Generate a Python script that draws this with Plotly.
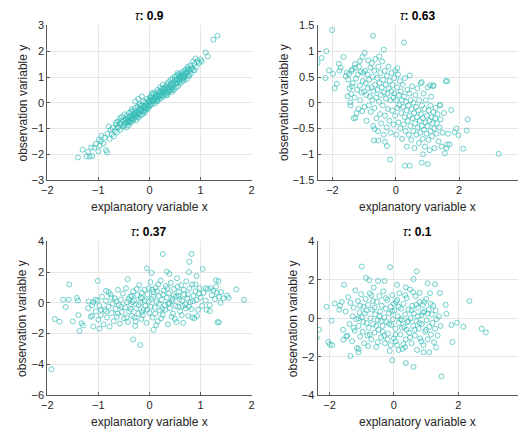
import plotly.graph_objects as go

# ---------------- data ----------------
titles = ["0.9", "0.63", "0.37", "0.1"]

p1 = [(-1.40,-2.12),(-1.31,-1.82),(-1.23,-2.08),(-1.17,-2.09),(-1.12,-2.07),(-1.14,-1.74),(-1.08,-1.74),(-1.20,-1.90),
      (-0.99,-1.43),(-0.94,-1.28),(-0.90,-1.58),(-0.85,-1.84),(-0.83,-1.92),(-1.00,-1.88),(-0.97,-1.66),(-0.95,-1.50),
      (-1.05,-1.60),(-0.88,-1.35),(-0.82,-1.20),(-0.80,-0.92),(-0.78,-1.40),(-0.76,-1.05),(-0.74,-1.22),(-0.72,-0.98),
      (-0.70,-1.30),(-0.68,-1.10),(-0.66,-0.78),
      (-0.65,-0.85),(-0.64,-1.15),(-0.62,-0.72),(-0.60,-0.95),(-0.58,-0.60),(-0.57,-1.05),(-0.55,-0.80),(-0.54,-0.55),
      (-0.52,-0.92),(-0.50,-0.70),(-0.49,-0.45),(-0.48,-0.85),(-0.46,-0.62),(-0.45,-0.95),(-0.44,-0.50),(-0.43,-0.75),
      (-0.42,-0.58),(-0.41,-0.88),(-0.40,-0.40),(-0.39,-0.66),(-0.38,-0.55),(-0.37,-0.78),(-0.36,-0.35),(-0.35,-0.60),
      (-0.34,-0.48),(-0.33,-0.70),(-0.32,-0.30),(-0.31,-0.55),(-0.30,-0.62),(-0.29,-0.42),(-0.28,-0.20),(-0.27,-0.50),
      (-0.26,-0.68),(-0.25,-0.35),(-0.24,-0.45),(-0.23,-0.15),(-0.22,-0.58),(-0.21,-0.28),(-0.20,-0.40),(-0.19,-0.05),
      (-0.18,-0.50),(-0.17,-0.22),(-0.16,-0.32),(-0.15,-0.10),(-0.14,-0.45),(-0.13,-0.18),(-0.12,0.05),(-0.11,-0.30),
      (-0.10,-0.12),(-0.09,-0.38),(-0.08,0.02),(-0.07,-0.20),(-0.06,-0.05),(-0.05,0.15),(-0.04,-0.25),(-0.03,-0.08),
      (-0.02,0.08),(-0.01,-0.15),(0.00,0.00),(0.01,0.22),(0.02,-0.10),(0.03,0.10),(0.04,0.30),(0.05,-0.05),(0.06,0.15),
      (0.07,0.05),(0.08,0.35),(0.09,0.12),(0.10,-0.02),(0.11,0.25),(0.12,0.40),(0.13,0.18),(0.14,0.08),(0.15,0.30),
      (0.16,0.50),(0.17,0.22),(0.18,0.12),(0.19,0.40),(0.20,0.28),(0.21,0.60),(0.22,0.35),(0.23,0.18),(0.24,0.48),
      (0.25,0.30),(0.26,0.70),(0.27,0.42),(0.28,0.25),(0.29,0.55),(0.30,0.38),(0.31,0.62),(0.32,0.45),(0.33,0.30),
      (0.34,0.72),(0.35,0.52),(0.36,0.40),(0.37,0.80),(0.38,0.60),(0.39,0.45),(0.40,0.68),(0.41,0.88),(0.42,0.55),
      (0.43,0.75),(0.44,0.42),(0.45,0.95),(0.46,0.62),(0.47,0.80),(0.48,0.50),(0.49,1.00),(0.50,0.72),(0.51,0.88),
      (0.52,0.60),(0.53,1.05),(0.54,0.78),(0.55,0.92),(0.56,0.65),(0.57,1.10),(0.58,0.85),(0.59,1.00),(0.60,0.75),
      (0.61,1.15),(0.62,0.90),(0.63,1.05),(0.64,0.82),(0.65,1.20),(0.66,0.95),(0.67,1.10),(0.68,0.88),(0.69,1.25),
      (0.70,1.02),(0.72,1.30),(0.73,0.92),(0.74,1.15),(0.75,1.40),(0.76,1.05),(0.78,1.25),(0.80,1.45),(0.81,1.12),
      (0.83,1.35),(0.85,1.60),(0.86,1.28),(0.88,1.50),(0.90,1.72),(0.92,1.40),(0.94,1.62),(0.97,1.55),(1.00,1.68),
      (1.02,1.60),(1.10,1.95),(1.14,1.80),(1.25,2.45),(1.33,2.60),
      (-0.55,-0.70),(-0.50,-0.90),(-0.45,-0.65),(-0.40,-0.75),(-0.35,-0.50),(-0.30,-0.45),(-0.25,-0.55),(-0.20,-0.25),
      (-0.15,-0.30),(-0.10,-0.20),(-0.05,-0.10),(0.00,0.10),(0.05,0.05),(0.10,0.20),(0.15,0.15),(0.20,0.45),(0.25,0.40),
      (0.30,0.52),(0.35,0.60),(0.40,0.50),(0.45,0.70),(0.50,0.90),(0.55,0.80),(0.60,0.95),(0.65,1.00),(0.70,1.15),
      (-0.33,-0.62),(-0.28,-0.38),(-0.18,-0.12),(-0.08,-0.28),(0.02,0.18),(0.12,0.28),(0.22,0.25),(0.32,0.35),
      (0.42,0.65),(0.52,0.75),(0.62,1.05),(0.72,1.20),(-0.38,-0.72),(-0.42,-0.68),(-0.47,-0.78),(-0.58,-0.82),
      (-0.62,-0.95),(0.58,1.02),(0.68,0.98),(0.78,1.05),(0.82,1.30),(0.88,1.25),(0.45,0.50),(0.35,0.30),(0.15,0.05),
      (-0.02,-0.20),(-0.12,-0.35),(-0.22,-0.45),(0.05,0.38),(0.25,0.55),(-0.35,-0.25),(0.55,1.15),(0.76,1.32),
      (-0.22,0.15),(-0.15,0.25),(-0.28,0.05)]

p2 = [(-2.47,0.77),(-2.34,0.87),(-2.19,1.00),(-2.22,0.48),(-2.01,1.41),(-2.11,0.63),(-1.98,0.56),(-1.93,0.28),
      (-1.86,0.37),(-1.80,0.76),(-1.74,0.68),(-1.78,0.62),(-1.65,0.89),(-1.47,0.56),(-1.44,0.01),(-1.41,0.17),
      (-1.39,0.32),(-1.37,0.65),(-1.29,0.75),(-1.27,-0.29),(-1.13,0.81),(-1.05,0.89),(-0.98,0.97),(-0.72,1.30),
      (-0.67,-0.51),(-0.69,-0.73),(-0.55,-0.73),(-0.52,0.90),(-0.38,1.03),(-0.34,-0.76),(-0.28,-0.84),(-0.18,-1.10),
      (0.26,1.17),(0.29,-1.22),(0.44,-1.22),(0.82,-1.16),(1.01,-1.19),(0.86,-1.00),(1.55,-0.98),(1.62,-0.81),
      (1.70,-0.81),(1.62,0.42),(1.75,-0.14),(2.27,-0.32),(2.24,-0.54),(2.13,-0.89),(1.98,-0.63),(1.91,-0.50),
      (1.86,-0.57),(3.25,-0.99),(1.39,-0.04),(1.19,0.34),(1.08,0.34),(0.82,0.40),(0.44,0.53),(0.05,0.67),
      (-1.58,0.52),(-1.55,0.58),(-1.52,0.13),(-1.50,0.45),(-1.46,0.28),(-1.43,-0.05),(-1.40,0.62),(-1.36,0.38),
      (-1.33,-0.30),(-1.30,0.10),(-1.28,0.68),(-1.26,0.47),(-1.24,-0.20),(-1.22,0.25),(-1.20,0.55),(-1.18,-0.12),
      (-1.16,0.70),(-1.14,0.33),(-1.12,0.05),(-1.10,0.60),(-1.08,0.20),(-1.06,-0.16),(-1.04,0.42),(-1.02,0.58),
      (-1.00,0.22),(-0.99,-0.08),(-0.97,0.62),(-0.95,0.38),(-0.93,0.15),(-0.92,-0.35),(-0.90,0.55),(-0.88,0.28),
      (-0.87,0.82),(-0.85,-0.05),(-0.84,0.45),(-0.82,0.12),(-0.80,0.68),(-0.79,-0.18),(-0.77,0.30),(-0.76,0.77),
      (-0.74,0.05),(-0.73,0.50),(-0.71,-0.45),(-0.70,0.22),(-0.68,0.62),(-0.67,-0.10),(-0.65,0.35),(-0.64,0.85),
      (-0.62,0.10),(-0.61,-0.30),(-0.59,0.48),(-0.58,0.25),(-0.56,-0.55),(-0.55,0.70),(-0.53,0.02),(-0.52,0.38),
      (-0.50,-0.22),(-0.49,0.58),(-0.47,0.15),(-0.46,-0.40),(-0.44,0.30),(-0.43,0.80),(-0.41,-0.05),(-0.40,0.45),
      (-0.38,-0.62),(-0.37,0.20),(-0.35,0.62),(-0.34,-0.25),(-0.32,0.35),(-0.31,0.08),(-0.29,-0.48),(-0.28,0.52),
      (-0.26,0.18),(-0.25,-0.12),(-0.23,0.70),(-0.22,0.28),(-0.20,-0.35),(-0.19,0.42),(-0.17,0.05),(-0.16,-0.58),
      (-0.14,0.22),(-0.13,0.58),(-0.11,-0.15),(-0.10,0.35),(-0.08,0.10),(-0.07,-0.42),(-0.05,0.48),(-0.04,0.18),
      (-0.02,-0.25),(-0.01,0.62),(0.01,0.05),(0.02,-0.62),(0.04,0.30),(0.05,-0.10),(0.07,0.55),(0.08,-0.38),
      (0.10,0.15),(0.11,-0.05),(0.13,0.42),(0.14,-0.50),(0.16,0.22),(0.17,-0.20),(0.19,0.05),(0.20,-0.70),
      (0.22,0.35),(0.23,-0.08),(0.25,-0.42),(0.26,0.12),(0.28,-0.28),(0.29,0.48),(0.31,-0.55),(0.32,0.02),
      (0.34,-0.15),(0.35,-0.85),(0.37,0.25),(0.38,-0.35),(0.40,-0.05),(0.41,-0.62),(0.43,0.18),(0.44,-0.25),
      (0.46,-0.45),(0.47,0.05),(0.49,-0.72),(0.50,-0.12),(0.52,0.32),(0.53,-0.30),(0.55,-0.55),(0.56,0.00),
      (0.58,-0.20),(0.59,-0.88),(0.61,-0.40),(0.62,0.15),(0.64,-0.08),(0.65,-0.62),(0.67,-0.28),(0.68,0.28),
      (0.70,-0.48),(0.71,-0.15),(0.73,-0.78),(0.74,0.05),(0.76,-0.35),(0.77,-0.58),(0.79,0.38),(0.80,-0.22),
      (0.82,-0.45),(0.83,-0.05),(0.85,-0.70),(0.86,-0.30),(0.88,0.18),(0.89,-0.52),(0.91,-0.12),(0.92,-0.85),
      (0.94,-0.38),(0.95,0.05),(0.97,-0.60),(0.98,-0.25),(1.00,-0.45),(1.01,0.30),(1.03,-0.72),(1.04,-0.15),
      (1.06,-0.35),(1.07,-0.92),(1.09,-0.05),(1.10,-0.55),(1.12,0.12),(1.13,-0.28),(1.15,-0.65),(1.16,-0.40),
      (1.18,0.32),(1.19,-0.18),(1.21,-0.50),(1.22,-0.88),(1.24,-0.30),(1.26,-0.10),(1.28,-0.60),(1.30,-0.40),
      (1.32,-0.22),(1.35,-0.75),(1.38,-0.48),(1.40,-0.05),(1.42,-0.32),(1.45,-0.85),(1.48,-0.58),(1.52,-0.20),
      (1.58,0.42),(1.60,-0.88),(1.65,-0.60)]

p3 = [(-1.92,-4.32),(-1.85,-1.05),(-1.76,-1.22),(-1.69,0.21),(-1.64,-0.27),(-1.58,0.21),(-1.57,1.20),(-1.50,-1.20),
      (-1.42,0.32),(-1.40,0.15),(-1.39,-0.80),(-1.37,-1.83),(-1.33,-1.33),(-1.30,-1.47),(-1.19,0.10),(-1.12,-0.84),
      (-1.10,-1.54),(-1.06,0.21),(-1.02,0.15),(-1.01,1.43),(-0.98,-1.68),(-0.85,0.78),(-0.80,0.70),(-0.43,1.54),
      (-0.32,-2.38),(-0.18,-2.74),(-0.05,2.25),(0.04,1.96),(0.08,-1.75),(0.26,3.18),(0.34,2.04),(0.39,1.89),
      (0.78,2.67),(0.82,3.18),(0.77,2.00),(0.84,-0.95),(0.90,1.20),(0.92,1.75),(1.04,2.21),(1.10,0.95),(1.30,1.47),
      (1.35,1.41),(1.30,1.05),(1.33,-1.26),(1.36,-1.26),(1.18,-0.53),(1.39,0.00),(1.52,0.48),(1.55,0.32),(1.70,0.88),
      (1.85,0.20),
      (-1.20,-0.35),(-1.15,-0.90),(-1.10,0.05),(-1.05,-0.55),(-1.00,-1.10),(-0.98,-0.20),(-0.95,-0.80),(-0.93,0.40),
      (-0.90,-1.40),(-0.88,-0.45),(-0.85,0.12),(-0.83,-0.95),(-0.80,-0.25),(-0.78,-1.55),(-0.76,0.55),(-0.74,-0.65),
      (-0.72,-0.05),(-0.70,-1.20),(-0.68,0.30),(-0.66,-0.40),(-0.64,-0.90),(-0.62,0.85),(-0.60,-0.15),(-0.58,-1.35),
      (-0.56,0.20),(-0.54,-0.60),(-0.52,0.60),(-0.50,-1.00),(-0.48,-0.30),(-0.46,0.95),(-0.44,0.05),(-0.42,-1.25),
      (-0.40,-0.55),(-0.38,0.40),(-0.36,-0.10),(-0.34,-0.85),(-0.32,0.75),(-0.30,0.15),(-0.28,-1.50),(-0.26,-0.35),
      (-0.24,0.50),(-0.22,-0.70),(-0.20,1.15),(-0.18,0.00),(-0.16,-1.05),(-0.14,0.30),(-0.12,-0.45),(-0.10,0.85),
      (-0.08,-0.20),(-0.06,-1.30),(-0.04,0.55),(-0.02,0.10),(0.00,-0.65),(0.02,1.35),(0.04,0.25),(0.06,-0.95),
      (0.08,0.70),(0.10,-0.30),(0.12,1.00),(0.14,0.05),(0.16,-1.20),(0.18,0.45),(0.20,-0.50),(0.22,1.45),(0.24,0.20),
      (0.26,-0.80),(0.28,0.80),(0.30,-0.15),(0.32,1.10),(0.34,0.35),(0.36,-1.40),(0.38,0.60),(0.40,-0.35),(0.42,1.30),
      (0.44,0.10),(0.46,-0.70),(0.48,0.90),(0.50,-1.05),(0.52,0.40),(0.54,1.60),(0.56,-0.25),(0.58,0.70),(0.60,-0.55),
      (0.62,1.15),(0.64,0.15),(0.66,-1.30),(0.68,0.55),(0.70,-0.10),(0.72,1.40),(0.74,0.30),(0.76,-0.85),(0.78,0.95),
      (0.80,0.05),(0.82,-0.40),(0.84,1.20),(0.86,0.45),(0.88,-1.00),(0.90,0.75),(0.92,0.20),(0.95,-0.45),(0.98,0.95),
      (1.00,0.35),(1.03,-0.20),(1.06,0.65),(1.10,0.15),(1.14,0.90),(1.18,-0.15),(1.22,0.50),(1.25,0.80),(1.28,0.25),
      (1.32,0.65),(1.36,0.40),(1.40,0.70),(1.45,0.30),
      (-0.45,-0.95),(-0.41,0.25),(-0.37,-0.40),(-0.33,0.05),(-0.29,-0.95),(-0.25,0.90),(-0.21,-0.15),(-0.17,0.35),
      (-0.13,-0.80),(-0.09,0.15),(-0.05,-0.45),(-0.01,0.95),(0.03,-0.25),(0.07,0.40),(0.11,-0.70),(0.15,0.75),
      (0.19,-0.05),(0.23,-1.00),(0.27,0.55),(0.31,-0.45),(0.35,0.95),(0.39,0.00),(0.43,-0.90),(0.47,0.50),
      (0.51,-0.20),(0.55,1.05),(0.59,0.25),(0.63,-0.80),(0.67,0.85),(0.71,-0.35),(0.75,0.55),(-0.65,0.10),
      (-0.55,-0.25),(-0.35,0.45),(-0.15,0.65),(0.05,0.85),(0.25,-0.40),(0.45,0.25),(0.65,-0.20),(0.85,0.10),
      (-0.85,-0.55),(-0.75,0.35),(-0.95,-0.45),(-1.12,-0.15),(-0.62,-0.70),(-0.15,-0.60),(0.17,1.20),(0.37,-0.05),
      (0.57,0.45),(0.77,-0.25),(0.97,0.60),(1.12,-0.45),(1.20,0.95),(-0.27,-1.20),(0.13,-1.45),(0.53,-1.25),
      (0.93,-0.85)]

p4 = [(-2.40,-1.02),(-2.33,-0.60),(-2.09,0.60),(-2.04,-1.24),(-1.99,-1.36),(-1.92,-1.40),(-1.94,-0.13),(-1.84,0.77),
      (-1.68,0.65),(-1.58,-0.60),(-1.55,1.74),(-1.35,-1.97),(-1.09,-1.60),(-1.10,-1.77),(-1.00,2.69),(-0.87,2.10),
      (-0.77,1.99),(-0.49,1.94),(-0.29,1.94),(-0.12,2.66),(-0.05,-2.19),(0.10,1.74),(0.37,-2.33),(0.61,-2.53),
      (0.37,1.61),(0.71,2.44),(0.61,2.04),(0.80,1.32),(1.05,1.82),(1.28,1.77),(1.48,-3.03),(1.43,1.32),(1.61,0.70),
      (1.79,-0.35),(1.82,-1.24),(1.96,-0.23),(2.16,-0.44),(2.35,0.90),(2.73,-0.55),(2.86,-0.74),(1.63,0.23),
      (1.31,-1.52),(1.10,-1.77),(0.92,-1.77),(-1.70,0.45),(-1.62,0.85),(-1.57,-1.12),(-1.48,-0.95),
      (-1.50,0.35),(-1.45,-0.90),(-1.42,1.10),(-1.38,-0.30),(-1.35,0.80),(-1.30,-1.20),(-1.28,0.10),(-1.25,0.55),
      (-1.22,-0.65),(-1.20,1.45),(-1.17,-0.05),(-1.15,-1.55),(-1.12,0.90),(-1.10,-0.40),(-1.07,0.30),(-1.05,-0.95),
      (-1.02,1.25),(-1.00,0.05),(-0.97,-0.70),(-0.95,0.60),(-0.92,-1.30),(-0.90,0.25),(-0.88,1.00),(-0.85,-0.25),
      (-0.82,-0.90),(-0.80,0.70),(-0.78,-0.50),(-0.75,1.30),(-0.73,0.00),(-0.70,-1.10),(-0.68,0.45),(-0.65,-0.30),
      (-0.63,1.60),(-0.60,-0.75),(-0.58,0.20),(-0.55,-1.50),(-0.53,0.85),(-0.50,-0.10),(-0.48,-0.60),(-0.45,1.15),
      (-0.43,0.35),(-0.40,-1.00),(-0.38,0.65),(-0.35,-0.40),(-0.33,1.40),(-0.30,0.05),(-0.28,-1.30),(-0.25,0.50),
      (-0.23,-0.20),(-0.20,0.95),(-0.18,-0.80),(-0.15,0.25),(-0.13,-1.70),(-0.10,0.60),(-0.08,-0.35),(-0.05,1.20),
      (-0.03,-0.05),(0.00,-1.05),(0.02,0.40),(0.05,-0.55),(0.07,0.85),(0.10,-1.40),(0.12,0.10),(0.15,-0.25),
      (0.17,1.30),(0.20,-0.85),(0.22,0.50),(0.25,-0.10),(0.27,-1.60),(0.30,0.75),(0.32,-0.45),(0.35,0.20),
      (0.37,-1.10),(0.40,1.05),(0.42,-0.20),(0.45,0.45),(0.47,-0.75),(0.50,1.50),(0.52,0.00),(0.55,-1.30),
      (0.57,0.65),(0.60,-0.40),(0.62,0.25),(0.65,-0.90),(0.67,1.15),(0.70,-0.15),(0.72,-1.65),(0.75,0.55),
      (0.77,-0.55),(0.80,0.85),(0.82,-1.05),(0.85,0.15),(0.87,-0.30),(0.90,0.70),(0.92,-1.40),(0.95,0.35),
      (0.97,-0.70),(1.00,1.00),(1.02,-0.10),(1.05,-1.10),(1.08,0.45),(1.10,-0.45),(1.12,1.30),(1.15,-0.85),
      (1.18,0.20),(1.20,-0.25),(1.22,0.65),(1.25,-1.25),(1.28,-0.55),(1.30,0.40),(1.33,-0.05),(1.36,-0.90),
      (1.40,0.10),(1.45,-0.40),
      (-0.95,-0.20),(-0.85,0.40),(-0.75,-0.85),(-0.65,0.90),(-0.55,-0.40),(-0.45,0.10),(-0.35,-0.70),(-0.25,1.05),
      (-0.15,-0.30),(-0.05,0.35),(0.05,-0.85),(0.15,0.60),(0.25,-0.50),(0.35,1.20),(0.45,-0.15),(0.55,0.40),
      (0.65,-0.60),(0.75,0.10),(0.85,-1.20),(0.95,0.85),(1.05,0.25),(-1.25,-0.50),(-1.05,0.65),(-0.80,-1.45),
      (-0.60,0.55),(-0.40,-0.15),(-0.20,-1.10),(0.00,0.75),(0.20,-0.05),(0.40,-0.60),(0.60,1.35),(0.80,-0.25),
      (1.00,-0.60),(-0.70,1.20),(-0.30,-0.90),(0.10,0.95),(0.50,-1.00),(0.90,0.30),(-1.10,0.00),(0.30,-1.35),
      (0.70,0.70),(-0.50,-1.25),(1.15,0.75),(-0.10,-1.40),(0.15,-1.65),(0.35,-1.50),(0.05,-1.20)]

panels = [p1, p2, p3, p4]

x_ranges = [[-2, 2], [-2.47, 3.86], [-2, 2], [-2.375, 3.86]]
y_ranges = [[-3, 3], [-1.5, 1.5], [-6, 4], [-4, 4]]
x_dtick = [1, 2, 1, 2]
y_dtick = [1, 0.5, 2, 2]

# ---------------- layout geometry (pixels) ----------------
W, H = 522, 440
boxes = [(42, 250, 20, 179), (317, 521, 20, 179), (42, 250, 242, 400), (317, 521, 242, 400)]
ylab_x = [17, 283, 17, 292]

FONT = "Liberation Sans, Arial, Helvetica, sans-serif"
TXT = "#262626"
MARK = "rgb(52,188,182)"

fig = go.Figure()
annotations = []
layout = {}
for i, pts in enumerate(panels):
    n = "" if i == 0 else str(i + 1)
    xs = [p[0] for p in pts]
    ys = [p[1] for p in pts]
    fig.add_trace(go.Scatter(
        x=xs, y=ys, mode="markers", xaxis="x" + n, yaxis="y" + n,
        marker=dict(symbol="circle-open", size=5, color=MARK, line=dict(width=0.7, color=MARK)),
        showlegend=False, hoverinfo="skip"))
    l, r, t, b = boxes[i]
    common = dict(showgrid=True, gridcolor="#e6e6e6", gridwidth=1, zeroline=False,
                  showline=True, linecolor="#5a5a5a", linewidth=1, mirror=False,
                  ticks="inside", ticklen=3, tickcolor="#5a5a5a",
                  tickfont=dict(family=FONT, size=11, color=TXT), fixedrange=True)
    layout["xaxis" + n] = dict(common, domain=[l / W, r / W], range=x_ranges[i], dtick=x_dtick[i],
                               tick0=0, anchor="y" + n)
    layout["yaxis" + n] = dict(common, domain=[1 - b / H, 1 - t / H], range=y_ranges[i], dtick=y_dtick[i],
                               tick0=0, anchor="x" + n)
    cx = (l + r) / 2 / W
    annotations.append(dict(text="<i>τ</i><b>: " + titles[i] + "</b>", x=cx, y=1 - (t - 10) / H,
                            xref="paper", yref="paper", showarrow=False, xanchor="center", yanchor="middle",
                            font=dict(family=FONT, size=12, color="#000000")))
    annotations.append(dict(text="explanatory variable x", x=cx, y=1 - (b + 28) / H,
                            xref="paper", yref="paper", showarrow=False, xanchor="center", yanchor="middle",
                            font=dict(family=FONT, size=12, color=TXT)))
    annotations.append(dict(text="observation variable y", x=ylab_x[i] / W, y=1 - (t + b) / 2 / H,
                            xref="paper", yref="paper", showarrow=False, xanchor="center", yanchor="middle",
                            textangle=-90, font=dict(family=FONT, size=12, color=TXT)))

fig.update_layout(width=W, height=H, margin=dict(l=0, r=0, t=0, b=0),
                  paper_bgcolor="white", plot_bgcolor="white",
                  annotations=annotations, **layout)
fig.write_html("out.html")
